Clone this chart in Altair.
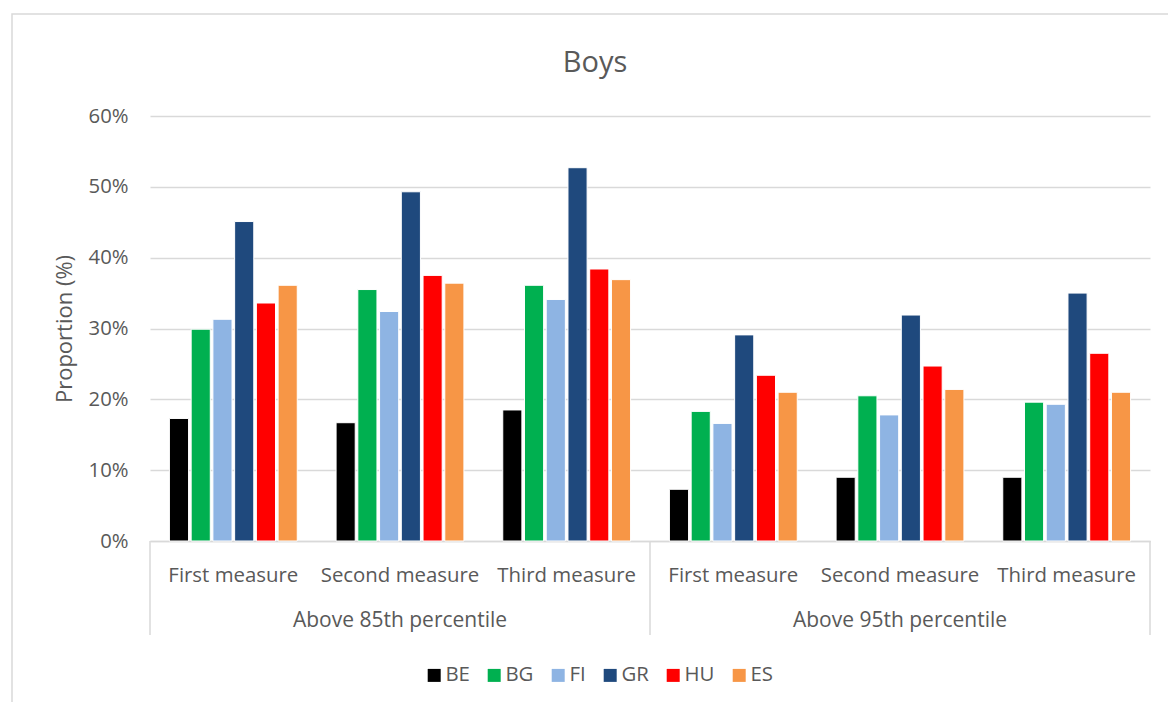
import altair as alt
import pandas as pd

groups = ["Above 85th percentile", "Above 95th percentile"]
measures = ["First measure", "Second measure", "Third measure"]
countries = ["BE", "BG", "FI", "GR", "HU", "ES"]
colors = ["#000000", "#00B050", "#8EB4E3", "#1F497D", "#FF0000", "#F79646"]

# values per country: 85th (first, second, third), 95th (first, second, third)
BE = [17.3, 16.7, 18.5, 7.3, 9.0, 9.0]
BG = [29.9, 35.5, 36.1, 18.3, 20.5, 19.6]
FI = [31.3, 32.4, 34.1, 16.6, 17.8, 19.3]
GR = [45.1, 49.3, 52.7, 29.1, 31.9, 35.0]
HU = [33.6, 37.5, 38.4, 23.4, 24.7, 26.5]
ES = [36.1, 36.4, 36.9, 21.0, 21.4, 21.0]
series = {"BE": BE, "BG": BG, "FI": FI, "GR": GR, "HU": HU, "ES": ES}

y_ticks = [0, 10, 20, 30, 40, 50, 60]

cats = [g + "|" + m for g in groups for m in measures]
rows = []
for gi, g in enumerate(groups):
    for mi, m in enumerate(measures):
        for c in countries:
            rows.append({"cat": g + "|" + m, "country": c, "value": series[c][gi * 3 + mi]})
df = pd.DataFrame(rows)

W, H = 1000, 425
FONT = "Open Sans"
TXT = "#595959"
GRID = "#d9d9d9"

xscale = alt.Scale(domain=cats, paddingInner=0.233, paddingOuter=0.1165)

bars = alt.Chart(df).mark_bar(stroke="white", strokeWidth=1).encode(
    x=alt.X("cat:N", scale=xscale, sort=cats,
            axis=alt.Axis(title=None, labelExpr="split(datum.label, '|')[1]", labelAngle=0,
                          ticks=False, domain=True, domainColor=GRID, domainWidth=1.5,
                          labelPadding=40, labelBaseline="alphabetic", labelFont=FONT,
                          labelFontSize=20.4, labelColor=TXT, grid=False)),
    xOffset=alt.XOffset("country:N", sort=countries,
                        scale=alt.Scale(domain=countries, paddingInner=0.12)),
    y=alt.Y("value:Q", scale=alt.Scale(domain=[0, 60]),
            axis=alt.Axis(values=y_ticks, labelExpr="datum.value + '%'", title="Proportion (%)",
                          ticks=False, domain=False, grid=True, gridColor=GRID, gridWidth=1.5,
                          labelPadding=22, labelFont=FONT, labelFontSize=20.3, labelColor=TXT,
                          labelBaseline="middle",
                          titleFont=FONT, titleFontSize=22, titleFontWeight="normal",
                          titleColor=TXT, titleAngle=270, titleX=-79, titleY=H / 2,
                          titleBaseline="alphabetic", titleAlign="center")),
    color=alt.Color("country:N", sort=countries,
                    scale=alt.Scale(domain=countries, range=colors),
                    legend=alt.Legend(title=None, orient="none", legendX=274, legendY=549,
                                      direction="horizontal", symbolType="square",
                                      symbolSize=169, symbolStrokeWidth=0,
                                      labelFont=FONT, labelFontSize=20.4, labelColor=TXT,
                                      labelOffset=1, columnPadding=14, padding=0)),
)

grp_df = pd.DataFrame({"group": groups})
group_labels = alt.Chart(grp_df).transform_calculate(
    cat="datum.group + '|Second measure'"
).mark_text(font=FONT, fontSize=21, color=TXT, baseline="alphabetic", align="center").encode(
    x=alt.X("cat:N", scale=xscale, sort=cats),
    y=alt.value(511),
    text="group:N",
)

one = pd.DataFrame({"a": [0]})
seps = [
    alt.Chart(one).mark_rule(color=GRID, strokeWidth=1.5).encode(
        x=alt.value(v), y=alt.value(H), y2=alt.value(H + 94))
    for v in [0, W / 2, W]
]

title = alt.Chart(one).mark_text(text="Boys", font=FONT, fontSize=29, color=TXT,
                                 baseline="alphabetic", align="center").encode(
    x=alt.value(445), y=alt.value(-44))

border = alt.Chart(one).mark_rect(fillOpacity=0, stroke=GRID, strokeWidth=1.5).encode(
    x=alt.value(-138), x2=alt.value(W + 40), y=alt.value(-102), y2=alt.value(H + 200))

chart = alt.layer(border, bars, group_labels, *seps, title).properties(
    width=W, height=H,
    padding={"left": 150, "top": 116, "right": 18, "bottom": 161},
    autosize=alt.AutoSizeParams(type="none"),
).configure_view(stroke=None)

chart.save("out.html", embed_options={"renderer": "svg", "actions": False})
